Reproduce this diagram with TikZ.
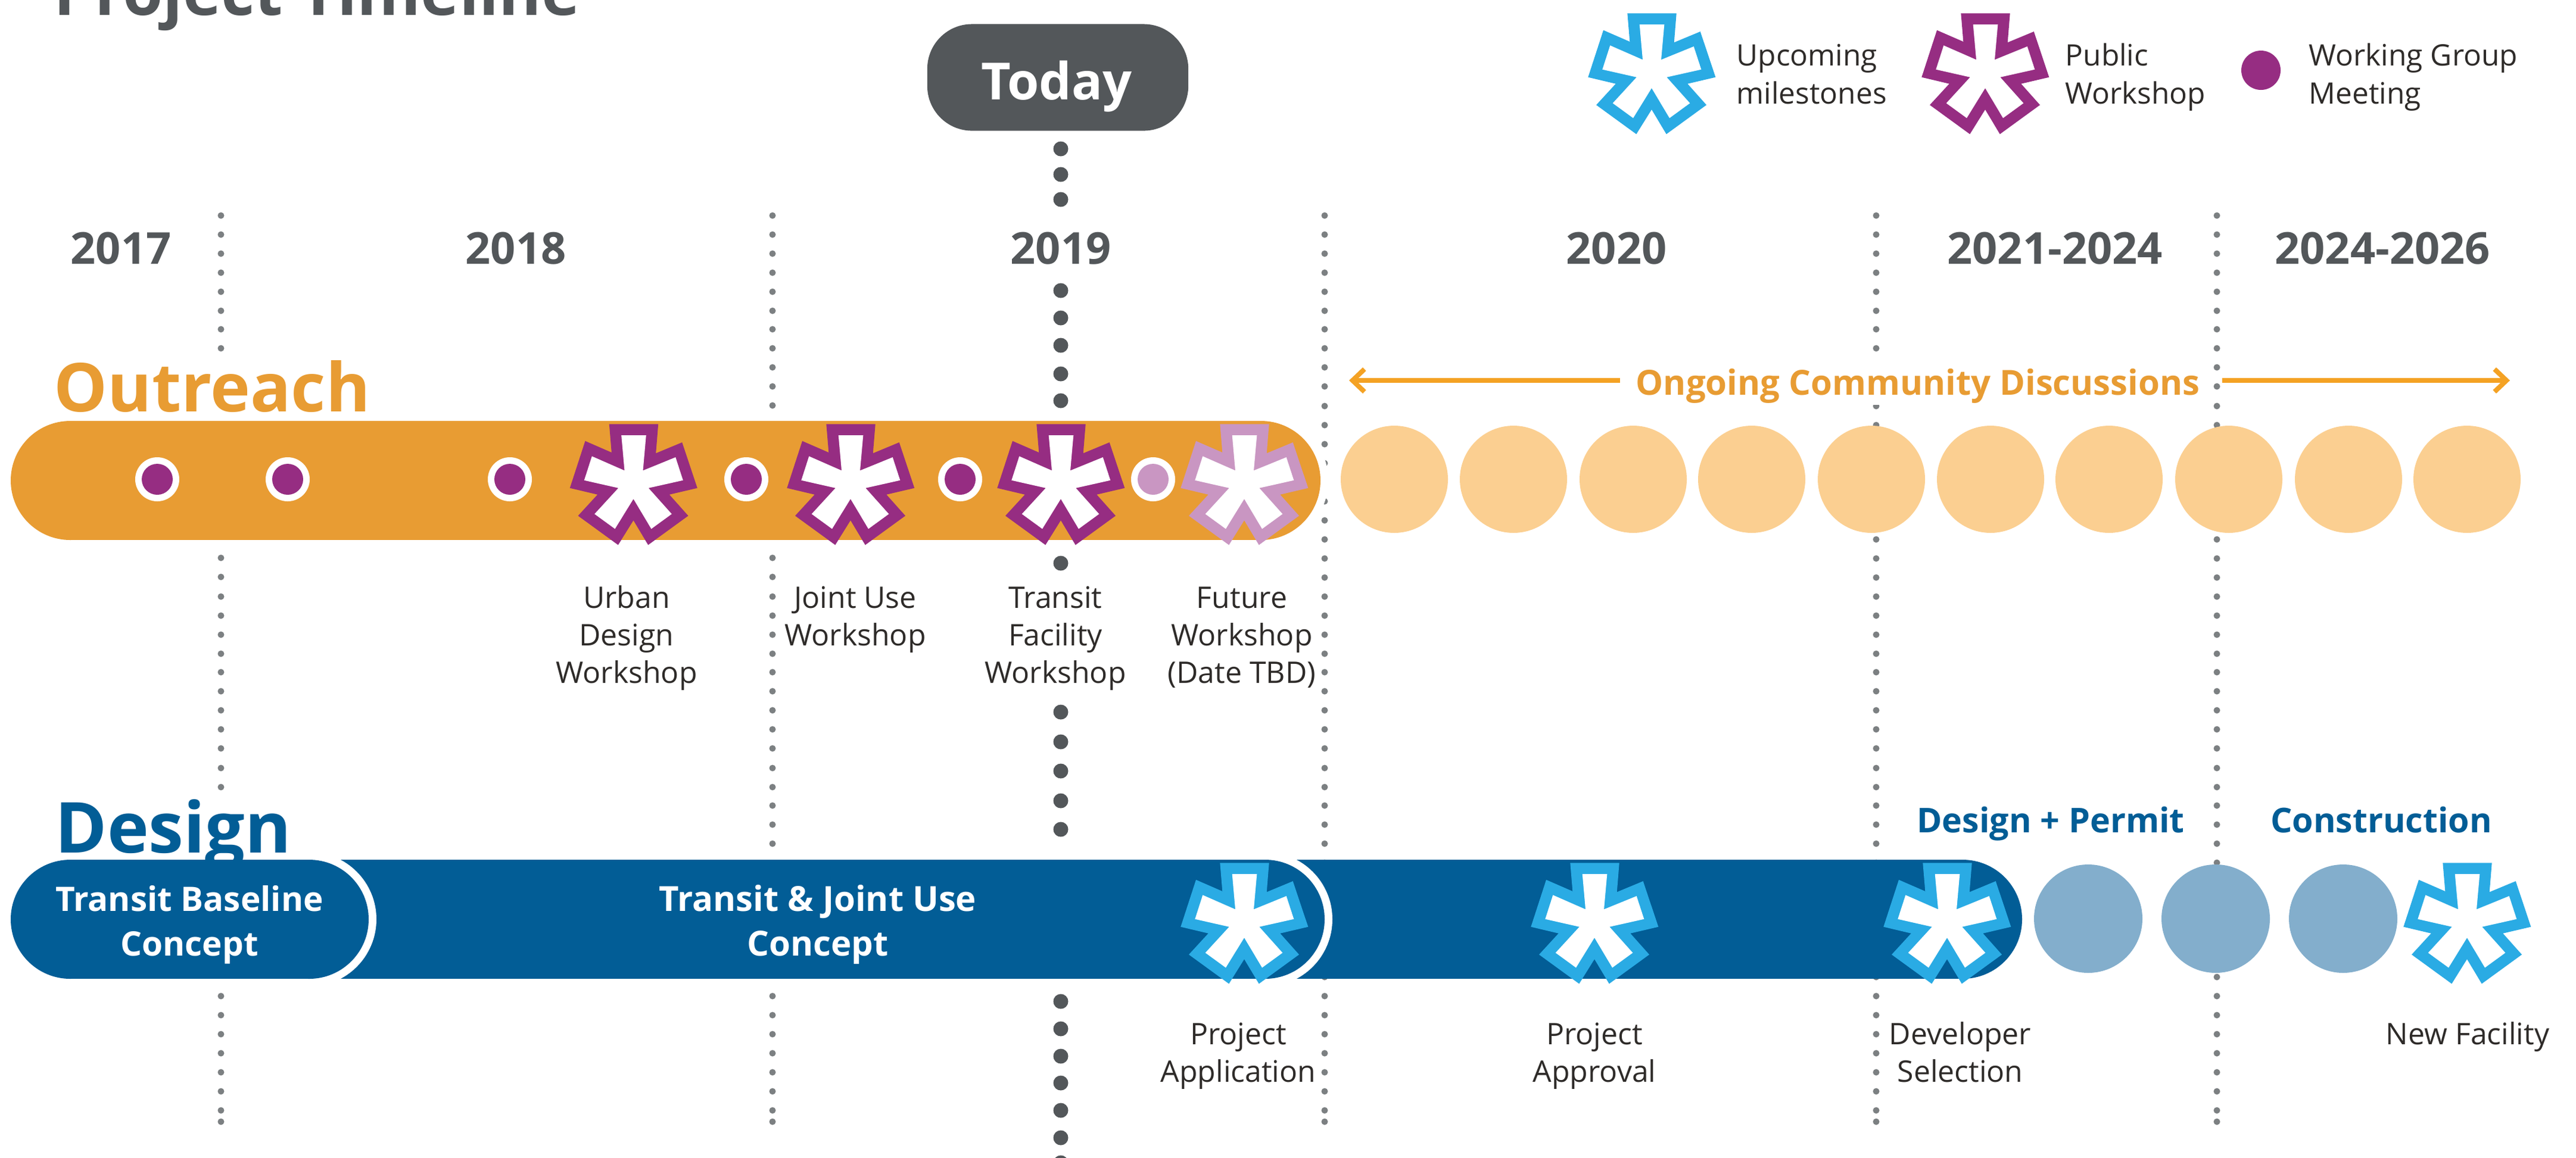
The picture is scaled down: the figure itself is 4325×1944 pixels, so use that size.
\documentclass[tikz,border=0pt]{standalone}
\usepackage{fontspec}
\setmainfont{Open Sans}
\usetikzlibrary{arrows.meta}
\definecolor{cgray}{HTML}{53575A}
\definecolor{cdot}{HTML}{7C8082}
\definecolor{cblack}{HTML}{2E2B29}
\definecolor{corange}{HTML}{E89C33}
\definecolor{carrow}{HTML}{F4A224}
\definecolor{cpeach}{HTML}{FBCF91}
\definecolor{cpurple}{HTML}{962D82}
\definecolor{clilac}{HTML}{C996C2}
\definecolor{cnavy}{HTML}{025D96}
\definecolor{csteel}{HTML}{83AECC}
\definecolor{csky}{HTML}{2AABE4}
\newcommand{\fsz}[1]{\fontsize{#1}{#1}\selectfont}
\newcommand{\astk}[3]{%
  \begin{scope}[shift={(#1,#2)}]
    \fill[#3] (-40.7,-100.7)--(41.7,-100.7)--(37.7,-51.7)--(81.7,-70)--(107.3,6.7)--(60.3,17.7)--(92,53.3)--(24.7,102.3)--(0,61)--(-25.7,102.3)--(-93,53.3)--(-60.3,17.7)--(-106.7,6.7)--(-81,-72.3)--(-36.7,-53)--cycle;
    \fill[white] (-20.3,-82)--(21.3,-82)--(16,-22.7)--(70.7,-45)--(83.3,-6.3)--(25.3,6.7)--(64.3,50.3)--(30,75.3)--(0,25)--(-31,75.3)--(-65.3,50.3)--(-25.3,6.7)--(-82.7,-6.3)--(-69.7,-46.7)--(-15,-22.7)--cycle;
  \end{scope}}
\tikzset{
  x=0.01cm,y=-0.01cm,
  year/.style={anchor=base,inner sep=0,text=cgray,font=\fsz{21}\bfseries},
  lbl/.style={anchor=base,inner sep=0,text=cblack,align=center,font=\fontsize{14.2}{17.9}\selectfont},
  leg/.style={anchor=base west,inner sep=0,text=cblack,align=left,font=\fontsize{14.1}{18.2}\selectfont},
  bartxt/.style={anchor=base,inner sep=0,text=white,align=center,font=\fontsize{16.1}{21.3}\selectfont\bfseries},
  phase/.style={anchor=base,inner sep=0,text=cnavy,font=\fsz{16.3}\bfseries},
  arrowline/.style={draw=carrow,line width=0.08cm,-{Straight Barb[length=0.2cm,width=0.38cm,line width=0.08cm]}},
}
\begin{document}
\begin{tikzpicture}
\clip (0,0) rectangle (4325,1944);
\useasboundingbox (0,0) rectangle (4325,1944);

% dotted year separators
\foreach \y in {362,394,426,458,490,522,553,585,937,969,1002,1034,1066,1098,1129,1161,1193,1225,1257,1290,1322,1673,1705,1737,1769,1801,1833,1865,1884}
  \fill[cdot] (371,\y) circle[radius=5.5];
\foreach \y in {362,394,426,458,490,522,553,585,617,649,681,937,969,1002,1034,1066,1098,1129,1161,1193,1225,1257,1290,1322,1353,1385,1417,1673,1705,1737,1769,1801,1833,1865,1884}
  \fill[cdot] (1297,\y) circle[radius=5.5];
\foreach \x in {2224,3150,3722}
  \foreach \y in {362,394,426,458,490,522,553,585,617,649,682,714,746,778,810,842,874,906,938,970,1002,1034,1066,1098,1129,1161,1193,1225,1257,1290,1322,1353,1385,1417,1449,1641,1673,1705,1737,1769,1801,1833,1865,1884}
    \fill[cdot] (\x,\y) circle[radius=5.5];

% today line
\foreach \y in {250,293,335,488,534,580,628,673,946,1196,1246,1295,1345,1393,1682,1728,1774,1819,1865,1911,1953}
  \fill[cgray] (1781,\y) circle[radius=12.5];

% title and headings
\node[anchor=base west,inner sep=0,text=cgray,font=\fsz{31}\bfseries] (title) at (90,25) {Project Timeline};
\node[fill=cgray,rounded corners=0.75cm,minimum width=4.38cm,minimum height=1.79cm,inner sep=0] (todaybox) at (1776,130) {};
\node[anchor=base,inner sep=0,text=white,font=\fsz{24.5}\bfseries] (today) at (1774,167) {Today};

\node[year] (y17) at (203,443) {2017};
\node[year] (y18) at (866,443) {2018};
\node[year] (y19) at (1781,443) {2019};
\node[year] (y20) at (2714,443) {2020};
\node[year] (y21) at (3450,443) {2021-2024};
\node[year] (y24) at (4000,443) {2024-2026};

% legend
\astk{2773}{123}{csky}
\node[leg] (l1) at (2915,174) {Upcoming\\milestones};
\astk{3333}{123}{cpurple}
\node[leg] (l2) at (3467,174) {Public\\Workshop};
\fill[cpurple] (3796,118) circle[radius=33];
\node[leg] (l3) at (3876,174) {Working Group\\Meeting};

% outreach
\node[anchor=base west,inner sep=0,text=corange,font=\fsz{32.2}\bfseries] (outreach) at (90,691) {Outreach};
\fill[white] (2117,807) circle[radius=113];
\fill[corange] (118,707) rectangle (2117,907);
\fill[corange] (118,807) circle[radius=100];
\fill[corange] (2117,807) circle[radius=100];
\foreach \x in {2341,2541,2742,2941,3142,3342,3541,3742,3943,4142}
  \fill[cpeach] (\x,805) circle[radius=90];
\foreach \x in {264,483,856,1253,1612}{
  \fill[white] (\x,805) circle[radius=37];
  \fill[cpurple] (\x,805) circle[radius=26];}
\fill[white] (1936,805) circle[radius=37];
\fill[clilac] (1936,805) circle[radius=26];
\astk{1063.5}{813}{cpurple}
\astk{1428}{813}{cpurple}
\astk{1781}{813}{cpurple}
\astk{2089}{813}{clilac}

\fill[white] (2740,600) rectangle (3700,680);
\coordinate (arL0) at (2720,639);
\coordinate (arL1) at (2265,639);
\coordinate (arR0) at (3731,639);
\coordinate (arR1) at (4214,639);
\draw[arrowline] (arL0) -- (arL1);
\draw[arrowline] (arR0) -- (arR1);
\node[anchor=base,inner sep=0,text=corange,font=\fsz{16.5}\bfseries] (ongoing) at (3220,663) {Ongoing Community Discussions};

\node[lbl] (w1) at (1052,1147) {Urban\\Design\\Workshop};
\node[lbl] (w2) at (1436,1084) {Joint Use\\Workshop};
\node[lbl] (w3) at (1772,1147) {Transit\\Facility\\Workshop};
\node[lbl] (w4) at (2085,1147) {Future\\Workshop\\(Date TBD)};

% design
\node[anchor=base west,inner sep=0,text=cnavy,font=\fsz{33.6}\bfseries] (design) at (92,1432) {Design};
\fill[cnavy] (118,1444) rectangle (3295,1644);
\fill[cnavy] (3295,1544) circle[radius=100];
\begin{scope}
  \clip (0,1444) rectangle (4325,1644);
  \fill[white] (2124,1544) circle[radius=113];
  \fill[cnavy] (300,1444) rectangle (2124,1644);
  \fill[cnavy] (2124,1544) circle[radius=100];
  \fill[white] (519,1544) circle[radius=113];
  \fill[cnavy] (118,1444) rectangle (519,1644);
  \fill[cnavy] (519,1544) circle[radius=100];
  \fill[cnavy] (118,1544) circle[radius=100];
\end{scope}
\astk{2089}{1550}{csky}
\astk{2677}{1550}{csky}
\astk{3269}{1550}{csky}
\foreach \x in {3506,3720,3934}
  \fill[csteel] (\x,1543) circle[radius=91];
\astk{4142}{1550}{csky}

\node[bartxt] (b1) at (318,1605) {Transit Baseline\\Concept};
\node[bartxt,font=\fontsize{16.5}{21.3}\selectfont\bfseries] (b2) at (1373,1605) {Transit \& Joint Use\\Concept};
\node[phase] (p1) at (3443,1398) {Design + Permit};
\node[phase] (p2) at (3998,1398) {Construction};
\node[lbl] (m1) at (2079,1817) {Project\\Application};
\node[lbl] (m2) at (2677,1817) {Project\\Approval};
\node[lbl] (m3) at (3291,1817) {Developer\\Selection};
\node[lbl] (m4) at (4143,1754) {New Facility};
\end{tikzpicture}
\end{document}
